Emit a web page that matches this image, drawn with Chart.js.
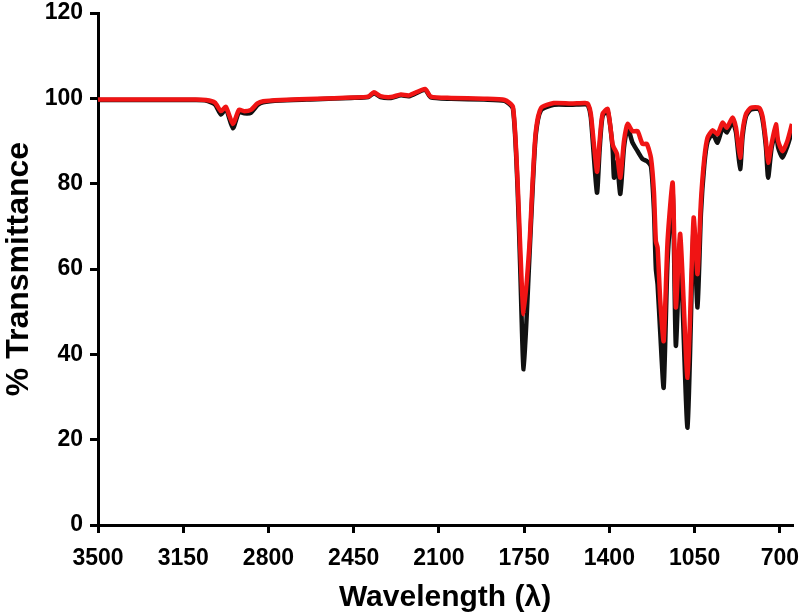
<!DOCTYPE html>
<html>
<head>
<meta charset="utf-8">
<script src="https://cdn.jsdelivr.net/npm/chart.js@4.4.1/dist/chart.umd.min.js"></script>
<style>
html,body{margin:0;padding:0;background:#fff;}
#wrap{width:800px;height:616px;position:relative;}
</style>
</head>
<body>
<div id="wrap"><canvas id="c" width="800" height="616"></canvas></div>
<script>
const wavenumbers = [3500,3300,3100,3057,3020,2995,2975,2946,2921,2900,2872,2845,2822,2750,2600,2461,2390,2367,2340,2297,2256,2223,2157,2133,2050,1915,1830,1796,1777,1766,1752,1729,1715,1702,1681,1628,1558,1500,1488,1476,1451,1440,1428,1407,1387,1381,1369,1355,1340,1325,1305,1284,1264,1246,1229,1217,1209,1202,1191,1177,1161,1140,1127,1109,1079,1054,1038,1024,1010,997,976,956,935,918,894,880,863,853,839,819,785,771,757,748,734,716,707,689,669,650];
const redT = [99.7,99.7,99.7,99.6,99.0,97.0,98.0,94.0,97.3,97.0,97.3,98.8,99.3,99.6,99.9,100.2,100.4,101.4,100.5,100.3,100.9,100.7,102.2,100.4,100.1,99.9,99.6,98.0,80.6,65,49.4,65,80.6,92.3,97.7,98.9,98.8,98.9,98.7,96.3,82.8,90,96.3,97.5,89.3,88.4,87.0,81.4,90,94.0,92.3,92.3,89.3,89.3,86,78,66.5,65,52.5,43.1,66.6,80.2,51,68.2,34.5,72,58.8,75.9,86,90.8,92.5,91.6,94.3,93.1,95.5,93.1,86.1,92.3,96.3,97.8,97.8,95.8,90,84.9,89.3,93.9,90,87.6,90,94];
const blackT = [99.6,99.6,99.6,99.5,98.6,96.2,97.6,93.0,96.8,96.5,96.6,98.4,99.1,99.5,99.8,100.1,100.3,101.2,100.3,100.1,100.7,100.5,102.0,100.2,99.9,99.7,99.4,97.6,79,60,36.5,62,79,91.5,97.2,98.5,98.5,98.6,98.4,95.5,77.9,88,95.8,97.0,88.5,81.4,85,77.6,88.5,93.2,89.6,87.6,85.8,85.3,84,74,60,56.4,45,32.2,62,78,42,64,22.8,70,51,73,84.5,89.8,91.7,89.6,93.1,92,94.5,92,83.4,91,95.8,97.4,97.4,95,88.5,81.4,88.3,92.3,88.5,86.1,88.8,92.3];
const xTicks = [3500,3150,2800,2450,2100,1750,1400,1050,700];
const yTicks = [0,20,40,60,80,100,120];

const pts = (ys) => wavenumbers.map((w,i)=>({x:w,y:ys[i]}));
const fontFam = "'Liberation Sans', Arial, sans-serif";

new Chart(document.getElementById('c'), {
  type: 'line',
  data: {
    datasets: [
      {label:'red', data: pts(redT), borderColor:'#f01414', borderWidth:4.5, pointRadius:0, tension:0.2, fill:false, order:1},
      {label:'black', data: pts(blackT), borderColor:'#111111', borderWidth:4.5, pointRadius:0, tension:0.2, fill:false, order:2}
    ]
  },
  options: {
    responsive:false,
    animation:false,
    events:[],
    layout:{padding:{top:13,right:8,left:0,bottom:0}},
    plugins:{legend:{display:false},tooltip:{enabled:false}},
    scales:{
      x:{
        type:'linear', reverse:true, min:650, max:3500,
        afterBuildTicks:(s)=>{s.ticks = xTicks.map(v=>({value:v}));},
        afterFit:(s)=>{s.height = 91; s.paddingLeft = 0; s.paddingRight = 0;},
        grid:{display:true, drawOnChartArea:false, drawTicks:true, tickLength:8, lineWidth:3, color:'#000'},
        border:{display:true, width:3, color:'#000'},
        ticks:{color:'#000', padding:12, maxRotation:0, autoSkip:false, font:{family:fontFam, size:23, weight:'bold'}, callback:(v)=>String(v)},
        title:{display:true, text:'Wavelength (λ)', color:'#000', padding:{top:4,bottom:0}, font:{family:fontFam, size:30, weight:'bold'}}
      },
      y:{
        type:'linear', min:0, max:120,
        afterBuildTicks:(s)=>{s.ticks = yTicks.map(v=>({value:v}));},
        afterFit:(s)=>{s.width = 98; s.paddingTop = 0; s.paddingBottom = 0;},
        grid:{display:true, drawOnChartArea:false, drawTicks:true, tickLength:8, lineWidth:3, color:'#000'},
        border:{display:true, width:3, color:'#000'},
        ticks:{color:'#000', padding:7, font:{family:fontFam, size:23, weight:'bold'}},
        title:{display:true, text:'% Transmittance', color:'#000', padding:{top:0,bottom:4}, font:{family:fontFam, size:32, weight:'bold'}}
      }
    }
  }
});
</script>
</body>
</html>
